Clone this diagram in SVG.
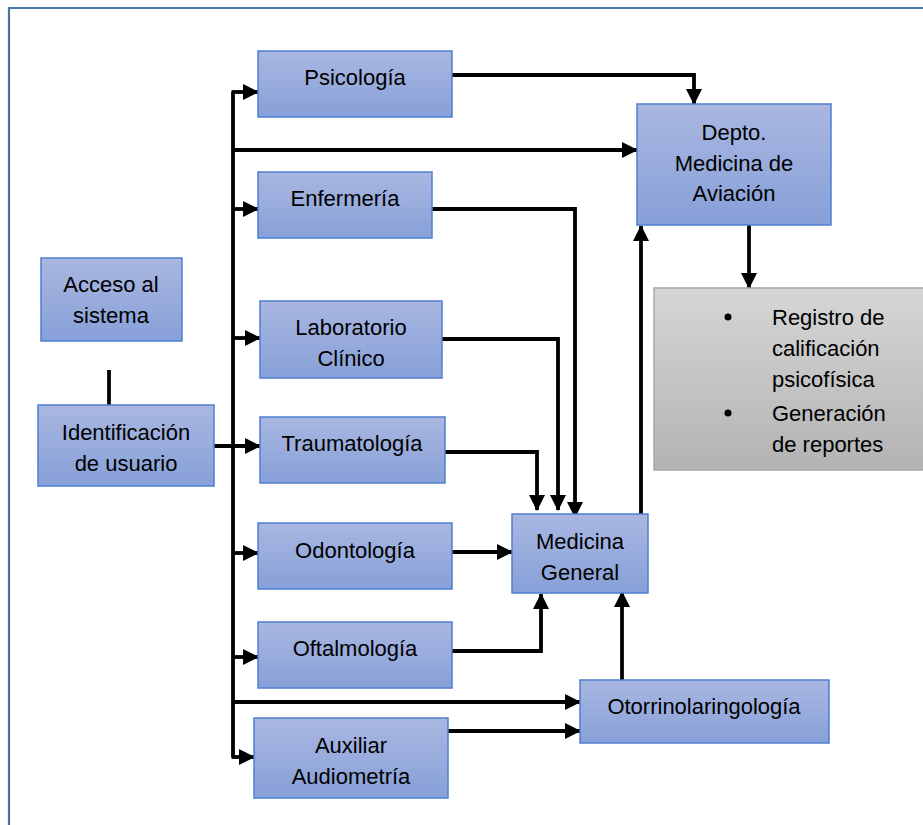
<svg xmlns="http://www.w3.org/2000/svg" width="923" height="825" viewBox="0 0 923 825">
  <defs>
    <linearGradient id="blueFill" x1="0" y1="0" x2="0" y2="1">
      <stop offset="0" stop-color="#a9b7e1"/>
      <stop offset="1" stop-color="#87a0d8"/>
    </linearGradient>
    <linearGradient id="grayFill" x1="0" y1="0" x2="0" y2="1">
      <stop offset="0" stop-color="#d6d6d6"/>
      <stop offset="1" stop-color="#b3b3b3"/>
    </linearGradient>
    <marker id="arrow" markerUnits="userSpaceOnUse" markerWidth="16" markerHeight="16" viewBox="0 0 16 16" refX="15" refY="8" orient="auto">
      <path d="M0,0 L16,8 L0,16 Z" fill="#000"/>
    </marker>
    <style>
      .box { fill: url(#blueFill); stroke: #4f7fd0; stroke-width: 1.5; }
      .gray { fill: url(#grayFill); stroke: #a8a8a8; stroke-width: 1.5; }
      .lbl { font-family: "Liberation Sans", Arial, sans-serif; font-size: 22px; fill: #000; text-anchor: middle; }
      .lst { font-family: "Liberation Sans", Arial, sans-serif; font-size: 22px; fill: #000; }
      .wire { fill: none; stroke: #000; stroke-width: 3.8; }
      .arr { marker-end: url(#arrow); }
    </style>
  </defs>

  <rect width="923" height="825" fill="#fff"/>
  <!-- outer frame -->
  <path d="M9,825 L9,8 L923,8" fill="none" stroke="#4a74a6" stroke-width="2.2"/>

  <g id="connectors">
    <!-- trunk -->
    <path class="wire" d="M233,757 L233,92"/>
    <path class="wire arr" d="M231.5,92 L258,92"/>
    <path class="wire arr" d="M233,150 L637,150"/>
    <path class="wire arr" d="M233,209 L258,209"/>
    <path class="wire arr" d="M233,338 L260,338"/>
    <path class="wire arr" d="M214,446 L260,446"/>
    <path class="wire arr" d="M233,553 L258,553"/>
    <path class="wire arr" d="M233,657 L258,657"/>
    <path class="wire arr" d="M233,702 L580,702"/>
    <path class="wire arr" d="M231.5,757 L254,757"/>
    <!-- Acceso - Identificacion -->
    <path class="wire" d="M109,370 L109,405"/>
    <!-- to Depto -->
    <path class="wire arr" d="M452,75 L694,75 L694,104"/>
    <!-- to Medicina General -->
    <path class="wire arr" d="M432,209 L575,209 L575,517"/>
    <path class="wire arr" d="M442,339 L558,339 L558,510"/>
    <path class="wire arr" d="M445,452 L537,452 L537,510"/>
    <path class="wire arr" d="M452,552 L512,552"/>
    <path class="wire arr" d="M452,651 L541,651 L541,594"/>
    <path class="wire arr" d="M622,680 L622,592"/>
    <path class="wire arr" d="M448,731 L580,731"/>
    <!-- Medicina General to Depto -->
    <path class="wire arr" d="M641,514 L641,226"/>
    <!-- Depto to results -->
    <path class="wire arr" d="M749,225 L749,288"/>
  </g>

  <g id="acceso">
    <rect class="box" x="41" y="258" width="141" height="83"/>
    <text class="lbl" x="111" y="292">Acceso al</text>
    <text class="lbl" x="111" y="323">sistema</text>
  </g>
  <g id="identificacion">
    <rect class="box" x="38" y="405" width="176" height="81"/>
    <text class="lbl" x="126" y="440">Identificación</text>
    <text class="lbl" x="126" y="471">de usuario</text>
  </g>
  <g id="psicologia">
    <rect class="box" x="258" y="51" width="194" height="66"/>
    <text class="lbl" x="355" y="85">Psicología</text>
  </g>
  <g id="enfermeria">
    <rect class="box" x="258" y="172" width="174" height="66"/>
    <text class="lbl" x="345" y="206">Enfermería</text>
  </g>
  <g id="laboratorio">
    <rect class="box" x="260" y="301" width="182" height="77"/>
    <text class="lbl" x="351" y="335">Laboratorio</text>
    <text class="lbl" x="351" y="366">Clínico</text>
  </g>
  <g id="traumatologia">
    <rect class="box" x="260" y="417" width="185" height="66"/>
    <text class="lbl" x="352" y="451">Traumatología</text>
  </g>
  <g id="odontologia">
    <rect class="box" x="258" y="523" width="194" height="66"/>
    <text class="lbl" x="355" y="558">Odontología</text>
  </g>
  <g id="oftalmologia">
    <rect class="box" x="258" y="622" width="194" height="66"/>
    <text class="lbl" x="355" y="656">Oftalmología</text>
  </g>
  <g id="audiometria">
    <rect class="box" x="254" y="718" width="194" height="80"/>
    <text class="lbl" x="351" y="753">Auxiliar</text>
    <text class="lbl" x="351" y="784">Audiometría</text>
  </g>
  <g id="depto">
    <rect class="box" x="637" y="104" width="194" height="121"/>
    <text class="lbl" x="734" y="140">Depto.</text>
    <text class="lbl" x="734" y="171">Medicina de</text>
    <text class="lbl" x="734" y="201">Aviación</text>
  </g>
  <g id="medicina-general">
    <rect class="box" x="512" y="514" width="136" height="79"/>
    <text class="lbl" x="580" y="549">Medicina</text>
    <text class="lbl" x="580" y="580">General</text>
  </g>
  <g id="otorrino">
    <rect class="box" x="580" y="680" width="249" height="63"/>
    <text class="lbl" x="704" y="714">Otorrinolaringología</text>
  </g>
  <g id="resultados">
    <rect class="gray" x="654" y="288" width="272" height="182"/>
    <circle cx="728" cy="317" r="3.5" fill="#000"/>
    <circle cx="728" cy="413" r="3.5" fill="#000"/>
    <text class="lst" x="772" y="325">Registro de</text>
    <text class="lst" x="772" y="356">calificación</text>
    <text class="lst" x="772" y="387">psicofísica</text>
    <text class="lst" x="772" y="421">Generación</text>
    <text class="lst" x="772" y="452">de reportes</text>
  </g>
</svg>
